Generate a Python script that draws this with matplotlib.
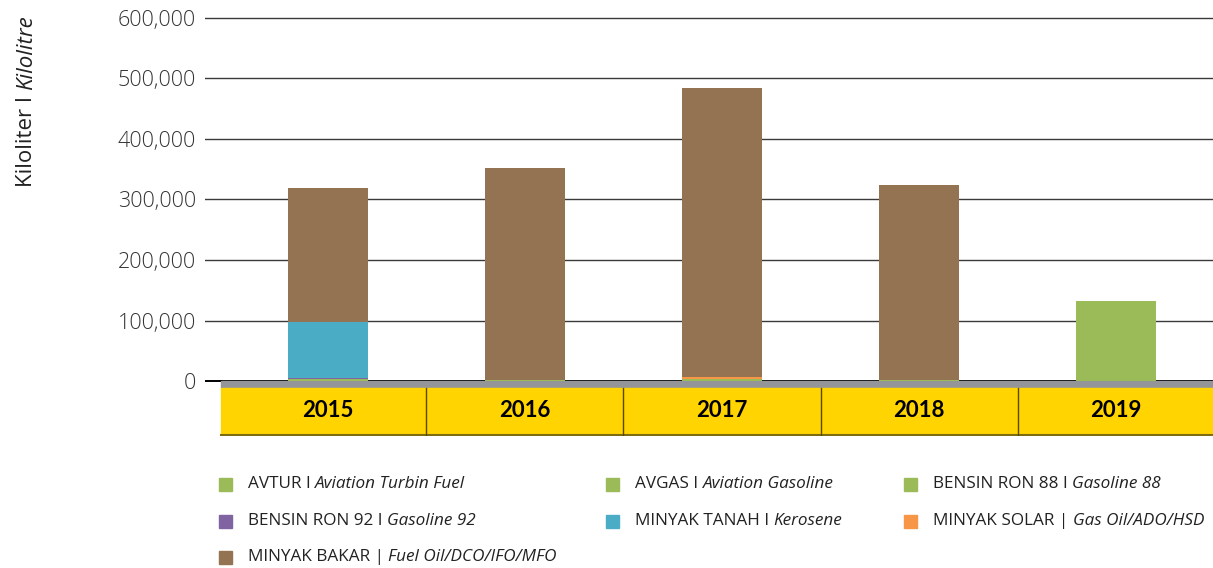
import matplotlib
matplotlib.use('Agg')
import numpy as np
from matplotlib import pyplot as plt
from matplotlib.patches import Rectangle

# data (kilolitre)
years = ['2015', '2016', '2017', '2018', '2019']
avtur = [2000, 1500, 2000, 1500, 132000]
avgas = [500, 500, 500, 500, 0]
ron88 = [500, 0, 0, 0, 0]
ron92 = [2500, 0, 0, 0, 0]
kerosene = [92000, 0, 0, 0, 0]
solar = [0, 0, 3500, 0, 0]
fuel_oil = [222000, 350000, 478000, 322000, 0]

yticks = [0, 100000, 200000, 300000, 400000, 500000, 600000]

series = [
    ('AVTUR I ', 'Aviation Turbin Fuel', avtur, '#9BBB59'),
    ('AVGAS I ', 'Aviation Gasoline', avgas, '#9BBB59'),
    ('BENSIN RON 88 I ', 'Gasoline 88', ron88, '#9BBB59'),
    ('BENSIN RON 92 I ', 'Gasoline 92', ron92, '#8064A2'),
    ('MINYAK TANAH I ', 'Kerosene', kerosene, '#4BACC6'),
    ('MINYAK SOLAR | ', 'Gas Oil/ADO/HSD', solar, '#F79646'),
    ('MINYAK BAKAR | ', 'Fuel Oil/DCO/IFO/MFO', fuel_oil, '#937352'),
]

W, H = 1213, 568
FONT = 'Open Sans'
fig = plt.figure(figsize=(W / 100, H / 100), dpi=100)
ax = fig.add_axes([205 / W, 1 - 436 / H, 1 - 205 / W, (436 - 10) / H])

x = np.arange(len(years))
ax.set_xlim(-0.624, 4.492)
ax.set_ylim(-90900, 613200)

# gridlines
for t in yticks:
    ax.axhline(t, color='#000000' if t == 0 else '#3a3a3a', lw=1.4 if t == 0 else 1.0, zorder=1)

# stacked bars
bottom = np.zeros(len(years))
for plain, ital, vals, col in series:
    ax.bar(x, vals, 0.406, bottom=bottom, color=col, zorder=3)
    bottom += np.array(vals)

# year band under the axis
ax.add_patch(Rectangle((-0.543, -11500), 6, 11500, color='#939598', zorder=2, clip_on=True))
ax.add_patch(Rectangle((-0.543, -90000), 6, 78500, color='#FFD400', zorder=2, clip_on=True))
ax.plot([-0.543, 6], [-89700, -89700], color='#7d6c10', lw=1.5, zorder=4)
for i in range(1, len(years)):
    ax.plot([i - 0.5, i - 0.5], [-90000, -11500], color='#5a4a00', lw=1.0, zorder=4)
for i, yr in enumerate(years):
    ax.text(i, -49500, yr, ha='center', va='center', fontsize=16, fontweight='bold',
            family='Lato', color='black', zorder=5)

for s in ax.spines.values():
    s.set_visible(False)
ax.set_xticks([])
ax.set_yticks(yticks)
ax.set_yticklabels(['{:,}'.format(t) for t in yticks], family=FONT, fontsize=15.5,
                   color='#333333', fontweight='light')
ax.tick_params(axis='y', length=0, pad=6.5)

fig.canvas.draw()
r = fig.canvas.get_renderer()


def fx(px):
    return px / W


def fy(py):
    return 1 - py / H


# y axis title, plain + italic parts
t1 = fig.text(fx(27), fy(187), 'Kiloliter I ', rotation=90, ha='center', va='bottom',
              family=FONT, fontsize=16, color='#222222')
h1 = t1.get_window_extent(r).height
fig.text(fx(27), fy(187) + h1 / H, 'Kilolitre', rotation=90, ha='center', va='bottom',
         family=FONT, fontsize=16, style='italic', color='#222222')

# legend
cols = [219, 606, 904]
rows = [484, 521, 557]
for k, (plain, ital, vals, col) in enumerate(series):
    cx = cols[k % 3]
    cy = rows[k // 3]
    fig.patches.append(Rectangle((fx(cx), fy(cy + 6.5)), 13 / W, 13 / H, color=col,
                                 transform=fig.transFigure, figure=fig))
    ta = fig.text(fx(cx + 29), fy(cy), plain, ha='left', va='center', family=FONT,
                  fontsize=12.3, color='#222222')
    wa = ta.get_window_extent(r).width
    fig.text(fx(cx + 29) + wa / W, fy(cy), ital, ha='left', va='center', family=FONT,
             fontsize=12.3, style='italic', color='#222222')

fig.savefig('out.png', dpi=100)
